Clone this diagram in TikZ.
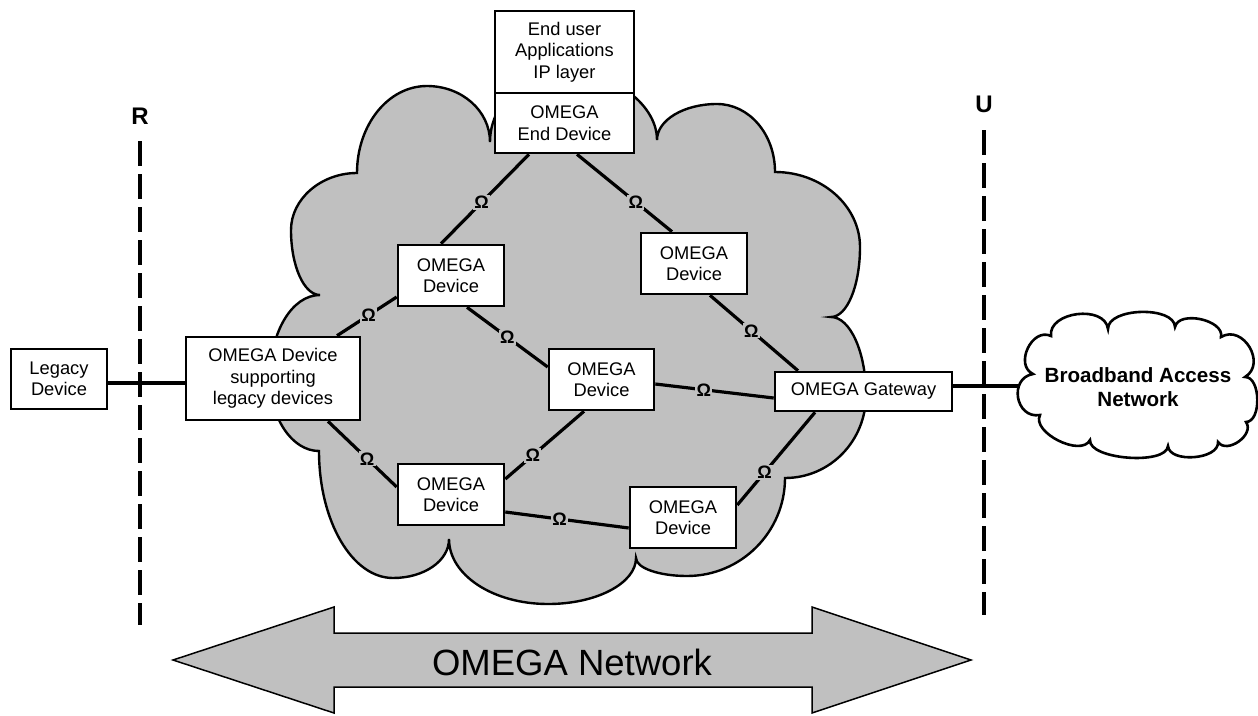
\documentclass[tikz,border=0pt]{standalone}
\usepackage{fontspec}
\setmainfont{Liberation Sans}
\usetikzlibrary{calc}
\definecolor{netgrey}{HTML}{C0C0C0}
\tikzset{
  devbox/.style={draw, line width=2.6pt, fill=white, align=center,
    font=\fontsize{18.3}{21.5}\selectfont, inner sep=0pt},
  link/.style={line width=3.2pt},
  omega/.style={font=\fontsize{18}{18}\selectfont\bfseries, fill=netgrey, inner sep=1.2pt},
  refline/.style={line width=3.6pt, dash pattern=on 25pt off 8pt},
  reflabel/.style={font=\fontsize{24}{24}\selectfont\bfseries},
  cloudline/.style={line width=2.4pt},
}
\begin{document}
\begin{tikzpicture}[x=1pt,y=-1pt]
\useasboundingbox (0,0) rectangle (1258,715);

% the grey OMEGA cloud
\draw[cloudline, fill=netgrey] (357,173)
  .. controls (357,125) and (388,86) .. (427,86)
  .. controls (462,86) and (490,111) .. (490,142)
  .. controls (490,100) and (530,70) .. (565,70)
  .. controls (606,70) and (657,101) .. (657,140)
  .. controls (657,120) and (684,104) .. (717,104)
  .. controls (749,104) and (775,134) .. (775,172)
  .. controls (822,172) and (860,206) .. (860,247)
  .. controls (860,286) and (847,317) .. (831,317)
  .. controls (850,317) and (866,352) .. (866,395)
  .. controls (866,441) and (830,478) .. (785,478)
  .. controls (785,532) and (741,576) .. (687,576)
  .. controls (659,576) and (636,568) .. (636,558)
  .. controls (636,583) and (597,604) .. (548,604)
  .. controls (493,604) and (449,575) .. (449,539)
  .. controls (449,561) and (424,578) .. (393,578)
  .. controls (352,578) and (319,521) .. (319,451)
  .. controls (292,451) and (270,418) .. (270,378)
  .. controls (270,332) and (292,295) .. (320,295)
  .. controls (304,295) and (291,266) .. (291,230)
  .. controls (291,199) and (321,173) .. (357,173)
  -- cycle;

% the white access-network cloud
\coordinate (b0) at (1033,374);
\coordinate (b1) at (1051,336);
\coordinate (b2) at (1108,329);
\coordinate (b3) at (1175,327);
\coordinate (b4) at (1221,337);
\coordinate (b5) at (1245,377);
\coordinate (b6) at (1246,422);
\coordinate (b7) at (1218,442);
\coordinate (b8) at (1168,446);
\coordinate (b9) at (1090,440);
\coordinate (b10) at (1040,415);
\draw[line width=2.6pt, fill=white] (b0)
  .. controls ($(b0)!0.5!90:(b1)$) and ($(b1)!0.5!-90:(b0)$) .. (b1)
  .. controls ($(b1)!0.43!90:(b2)$) and ($(b2)!0.43!-90:(b1)$) .. (b2)
  .. controls ($(b2)!0.32!90:(b3)$) and ($(b3)!0.32!-90:(b2)$) .. (b3)
  .. controls ($(b3)!0.37!90:(b4)$) and ($(b4)!0.37!-90:(b3)$) .. (b4)
  .. controls ($(b4)!0.55!90:(b5)$) and ($(b5)!0.55!-90:(b4)$) .. (b5)
  .. controls ($(b5)!0.35!90:(b6)$) and ($(b6)!0.35!-90:(b5)$) .. (b6)
  .. controls ($(b6)!0.45!90:(b7)$) and ($(b7)!0.45!-90:(b6)$) .. (b7)
  .. controls ($(b7)!0.35!90:(b8)$) and ($(b8)!0.35!-90:(b7)$) .. (b8)
  .. controls ($(b8)!0.25!90:(b9)$) and ($(b9)!0.25!-90:(b8)$) .. (b9)
  .. controls ($(b9)!0.35!90:(b10)$) and ($(b10)!0.35!-90:(b9)$) .. (b10)
  .. controls ($(b10)!0.6!90:(b0)$) and ($(b0)!0.6!-90:(b10)$) .. (b0)
  -- cycle;
\node[font=\fontsize{20.6}{24.5}\selectfont\bfseries, align=center] (bb) at (1138,387)
  {Broadband Access\\Network};
\coordinate (bbin) at (1019,386);

% reference points R and U
\node[reflabel] (rlab) at (140,116) {R};
\node[reflabel] (ulab) at (984,104) {U};
\coordinate (rtop) at (140,141);
\coordinate (rbot) at (140,625);
\coordinate (utop) at (984,130);
\coordinate (ubot) at (984,615);
\draw[refline] (rtop) -- (rbot);
\draw[refline] (utop) -- (ubot);

% devices
\node[devbox, minimum width=96pt, minimum height=60pt] (legacy) at (59,379) {Legacy\\Device};
\node[devbox, minimum width=174pt, minimum height=83pt] (sup) at (273,378.5)
  {OMEGA Device\\supporting\\legacy devices};
\node[devbox, minimum width=139pt, minimum height=82pt] (endtop) at (564.5,52)
  {End user\\Applications\\IP layer};
\node[devbox, minimum width=139pt, minimum height=60pt] (enddev) at (564.5,123)
  {OMEGA\\End Device};
\node[devbox, minimum width=106pt, minimum height=61pt] (ul) at (451,275.5) {OMEGA\\Device};
\node[devbox, minimum width=106pt, minimum height=61pt] (ur) at (694,263.5) {OMEGA\\Device};
\node[devbox, minimum width=105pt, minimum height=61pt] (mid) at (601.5,379.5) {OMEGA\\Device};
\node[devbox, minimum width=106pt, minimum height=61pt] (ll) at (451,494.5) {OMEGA\\Device};
\node[devbox, minimum width=106pt, minimum height=61pt] (lr) at (683,517.5) {OMEGA\\Device};
\node[devbox, minimum width=177pt, minimum height=39pt] (gw) at (863.5,391.5) {OMEGA Gateway};

% OMEGA links
\draw[link] ([xshift=-35.5pt]enddev.south) -- node[omega, pos=0.54] {Ω} ([xshift=-10pt]ul.north);
\draw[link] ([xshift=12.5pt]enddev.south) -- node[omega, pos=0.62] {Ω} ([xshift=-22pt]ur.north);
\draw[link] ([yshift=-21.5pt]ul.west) -- node[omega, pos=0.47] {Ω} ([xshift=64pt]sup.north);
\draw[link] ([xshift=16pt]ul.south) -- node[omega, pos=0.5] {Ω} ([yshift=12.5pt]mid.west);
\draw[link] ([xshift=16pt]ur.south) -- node[omega, pos=0.47] {Ω} ([xshift=-65.5pt]gw.north);
\draw[link] ([yshift=-4.5pt]mid.east) -- node[omega, pos=0.41] {Ω} ([yshift=-6.5pt]gw.west);
\draw[link] ([xshift=55pt]sup.south) -- node[omega, pos=0.57] {Ω} ([yshift=7.5pt]ll.west);
\draw[link] ([xshift=-17.5pt]mid.south) -- node[omega, pos=0.65] {Ω} ([yshift=15.5pt]ll.east);
\draw[link] ([yshift=-17.5pt]ll.east) -- node[omega, pos=0.44] {Ω} ([yshift=-10.5pt]lr.west);
\draw[link] ([yshift=12.5pt]lr.east) -- node[omega, pos=0.35] {Ω} ([xshift=-48.5pt]gw.south);

% outside links
\draw[link] ([yshift=-4pt]legacy.east) -- ([yshift=-4.5pt]sup.west);
\draw[link] ([yshift=5.5pt]gw.east) -- (bbin);

% OMEGA Network span arrow
\draw[line width=1.5pt, fill=netgrey] (173,660) -- (334,607) -- (334,633) -- (812,633)
  -- (812,607) -- (971,660) -- (812,713) -- (812,687) -- (334,687) -- (334,713) -- cycle;
\node[font=\fontsize{36.5}{36.5}\selectfont] (netlabel) at (572,662) {OMEGA Network};
\end{tikzpicture}
\end{document}
